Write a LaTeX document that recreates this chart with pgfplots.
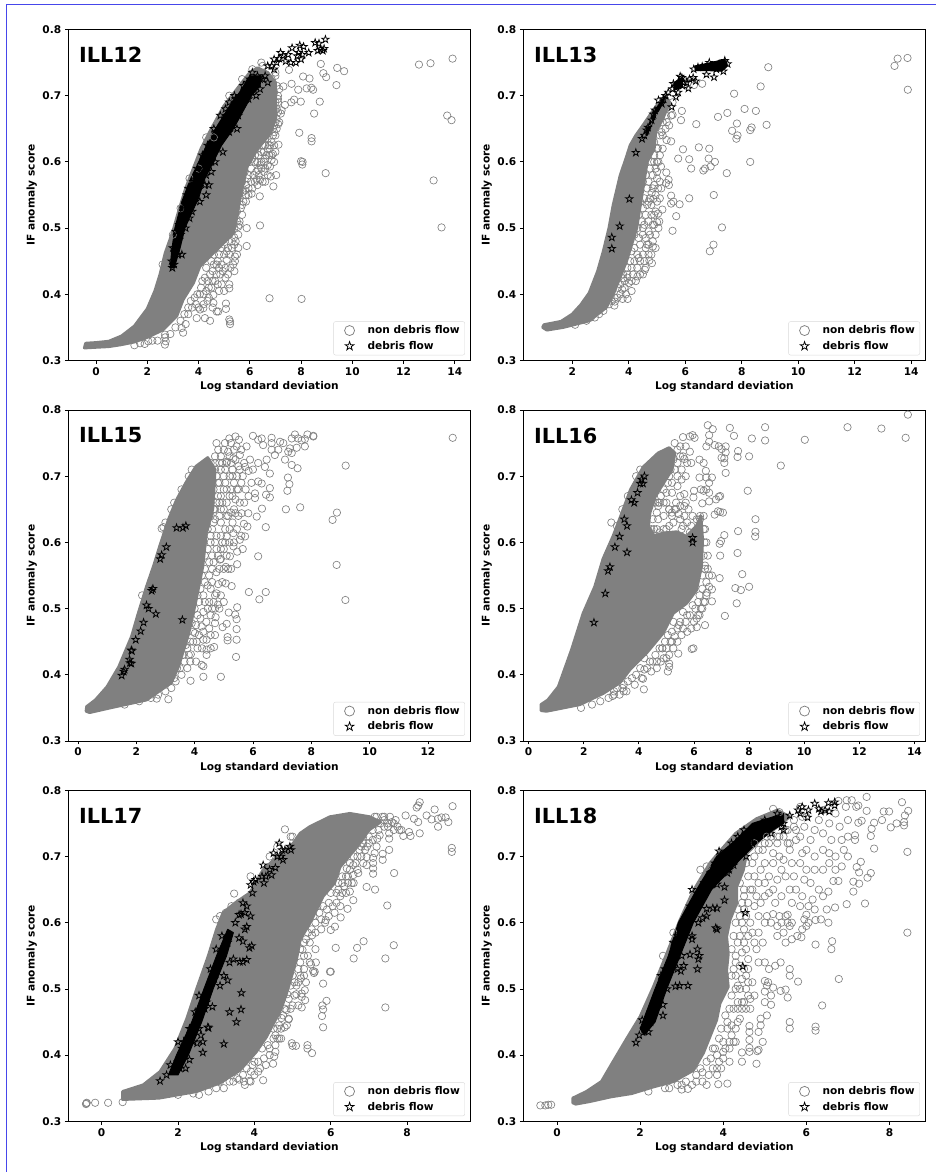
\documentclass[border=0pt]{standalone}
\usepackage{fontspec}
\setmainfont{DejaVu Sans}
\usepackage{pgfplots}
\pgfplotsset{compat=1.18}
\definecolor{mg}{RGB}{128,128,128}
\definecolor{bluebd}{RGB}{70,70,235}
\pgfdeclareplotmark{ostar}{%
  \pgfpathmoveto{\pgfpointpolar{90}{\pgfplotmarksize}}%
  \pgfpathlineto{\pgfpointpolar{126}{0.382\pgfplotmarksize}}%
  \pgfpathlineto{\pgfpointpolar{162}{\pgfplotmarksize}}%
  \pgfpathlineto{\pgfpointpolar{198}{0.382\pgfplotmarksize}}%
  \pgfpathlineto{\pgfpointpolar{234}{\pgfplotmarksize}}%
  \pgfpathlineto{\pgfpointpolar{270}{0.382\pgfplotmarksize}}%
  \pgfpathlineto{\pgfpointpolar{306}{\pgfplotmarksize}}%
  \pgfpathlineto{\pgfpointpolar{342}{0.382\pgfplotmarksize}}%
  \pgfpathlineto{\pgfpointpolar{18}{\pgfplotmarksize}}%
  \pgfpathlineto{\pgfpointpolar{54}{0.382\pgfplotmarksize}}%
  \pgfpathclose\pgfusepathqstroke}
\pgfplotsset{
  pan/.style={
    scale only axis, width=402.2pt, height=331pt,
    anchor=south west, ymin=0.3, ymax=0.8,
    ytick={0.3,0.4,0.5,0.6,0.7,0.8},
    tick align=outside, xtick pos=bottom, ytick pos=left,
    major tick length=3.5pt,
    every tick/.style={black,line width=0.8pt},
    axis line style={line width=0.8pt},
    clip=true,
    /pgf/number format/assume math mode=true,
    yticklabel style={/pgf/number format/fixed,/pgf/number format/fixed zerofill,/pgf/number format/precision=1},
    ticklabel style={font=\bfseries\fontsize{10.6}{12}\selectfont},
    scaled y ticks=false,
    xlabel={Log standard deviation}, ylabel={IF anomaly score},
    label style={font=\bfseries\fontsize{10.6}{12}\selectfont},
    xlabel style={at={(axis description cs:0.5,-0.079)},anchor=center},
    ylabel style={at={(axis description cs:-0.0907,0.5)},anchor=center},
    legend style={at={(0.9863,0.0157)},anchor=south east,draw=black!15,rounded corners=2pt,fill=white,
      font=\bfseries\fontsize{10.6}{12}\selectfont,inner xsep=3pt,inner ysep=2.2pt,
      row sep=2pt,cells={anchor=west}},
    legend cell align=left,
    legend image code/.code={\path[draw=none,fill=none] (0,0) -- (29pt,0); \path[draw=none,##1] plot coordinates {(13pt,0pt)};},
  },
  mass/.style={fill=mg,draw=mg,line width=3pt,line join=round,forget plot},
  core/.style={fill=black,draw=black,line width=1pt,line join=round,forget plot},
  circ/.style={only marks,mark=o,mark size=3.7pt,mark options={draw=mg,line width=0.65pt},forget plot},
  strs/.style={only marks,mark=ostar,mark size=3.9pt,mark options={draw=black,line width=0.75pt},forget plot},
}
\newcommand{\panlegend}{%
  \addlegendimage{only marks,mark=o,mark size=5pt,mark options={draw=mg,line width=0.75pt}}
  \addlegendentry{non debris flow}
  \addlegendimage{only marks,mark=ostar,mark size=4.6pt,mark options={draw=black,line width=0.75pt}}
  \addlegendentry{debris flow}}
\newcommand{\pantitle}[1]{\node[anchor=west,inner sep=0pt,font=\bfseries\fontsize{20.8}{24}\selectfont] at (rel axis cs:0.0266,0.923) {#1};}
\begin{document}
\begin{tikzpicture}[x=1pt,y=1pt]
\path[use as bounding box] (0,0) rectangle (936,1172);
\draw[bluebd,line width=1.4pt] (6.5,0) -- (6.5,1167.3) -- (936,1167.3);

% ILL12
\begin{axis}[pan,at={(68.3pt,811.5pt)},xmin=-1.079,xmax=14.61,xtick={0,2,4,6,8,10,12,14}]
\addplot[mass] coordinates {(-0.45,0.319)(-0.4,0.326)(0,0.327)(0.5,0.329)(1,0.337)(1.5,0.352)(2,0.378)(2.3,0.405)(2.5,0.43)(2.7,0.462)(3,0.495)(3.2,0.522)(3.5,0.56)(3.8,0.59)(4.1,0.62)(4.5,0.65)(5,0.685)(5.5,0.71)(6,0.735)(6.3,0.742)(6.7,0.735)(7,0.72)(7.02,0.668)(6.8,0.643)(6.27,0.618)(5.9,0.593)(5.75,0.568)(5.6,0.542)(5.5,0.517)(5.35,0.492)(4.7,0.467)(4.05,0.442)(3.8,0.417)(3.4,0.392)(3.15,0.367)(2.6,0.346)(2,0.335)(1.5,0.328)(1,0.324)(0.5,0.321)(0,0.32)(-0.45,0.319)} --cycle;
\addplot[circ] coordinates {(13.91,0.756)(13.05,0.749)(12.6,0.747)(13.7,0.670)(13.87,0.663)(13.17,0.572)(13.48,0.501)(9.68,0.737)(9.41,0.742)(9.38,0.716)(8.98,0.728)(8.87,0.734)(8.77,0.748)(8.33,0.726)(8.08,0.729)(8.96,0.583)(8.73,0.691)(8.51,0.673)(8.41,0.636)(8.41,0.631)(8.06,0.600)(8.05,0.596)(8.0,0.601)(7.93,0.644)(7.99,0.691)(7.62,0.690)(7.73,0.694)(7.89,0.709)(7.63,0.718)(7.31,0.714)(8.47,0.709)(8.22,0.711)(8.4,0.712)(7.53,0.739)(7.37,0.686)(7.24,0.678)(7.21,0.673)(7.11,0.657)(7.12,0.626)(8.02,0.393)(6.77,0.394)(6.4,0.504)(6.39,0.548)(6.92,0.563)(7.03,0.580)(6.82,0.578)(5.88,0.500)(5.88,0.473)(5.23,0.359)(5.2,0.362)(5.23,0.355)(5.07,0.378)(5.07,0.386)(5.2,0.409)(5.42,0.457)(5.42,0.450)(5.39,0.475)(5.39,0.486)(5.55,0.502)(5.6,0.510)(6.07,0.552)(5.81,0.557)(6.27,0.573)(6.4,0.573)(6.33,0.588)(6.79,0.593)(6.85,0.603)(4.71,0.374)(4.77,0.374)(4.58,0.387)(4.58,0.399)(4.25,0.364)(4.19,0.379)(4.06,0.377)(3.93,0.364)(3.4,0.342)(3.34,0.349)(2.69,0.324)(2.72,0.329)(2.69,0.339)(1.72,0.326)(2.04,0.329)(7.1,0.70)(7.05,0.68)(7.0,0.66)(6.95,0.645)(6.9,0.65)(6.6,0.635)(6.7,0.62)(6.5,0.625)(6.75,0.61)(6.55,0.60)(6.35,0.61)(6.2,0.60)(6.4,0.595)(6.05,0.59)(5.95,0.58)(5.85,0.565)(5.6,0.545)(5.65,0.53)(5.5,0.525)(5.75,0.54)(5.15,0.47)(5.0,0.46)(4.9,0.445)(5.05,0.44)(4.85,0.43)(4.7,0.445)(4.6,0.46)(4.5,0.45)(4.45,0.43)(4.3,0.44)(4.65,0.42)(4.75,0.415)(4.5,0.41)(4.3,0.405)(4.15,0.42)(4.05,0.40)(3.9,0.385)(3.75,0.38)(3.6,0.37)(3.5,0.355)(7.0,0.735)(6.85,0.725)(7.15,0.71)(7.1,0.69)(6.5,0.745)(4.0,0.59)(4.6,0.637)(3.0,0.49)(6.9,0.612)(6.6,0.59)(6.3,0.565)(5.95,0.56)(5.2,0.49)(5.3,0.47)(5.1,0.452)(4.8,0.405)(4.9,0.415)(5.0,0.405)
(7.0,0.73)(7.05,0.715)(6.95,0.705)(7.1,0.695)(7.0,0.69)(7.1,0.675)(7.05,0.665)(7.15,0.66)(6.95,0.655)(7.05,0.65)(6.9,0.64)(7.0,0.64)(6.85,0.63)(6.95,0.625)(6.7,0.635)(6.75,0.625)(6.6,0.625)(6.55,0.615)(6.65,0.61)(6.45,0.615)(6.3,0.62)(6.2,0.61)(6.1,0.605)(6.3,0.6)(6.45,0.6)(6.6,0.605)(6.7,0.595)(6.55,0.585)(6.35,0.58)(6.15,0.58)(6.05,0.57)(5.9,0.575)(5.85,0.55)(5.75,0.555)(5.7,0.52)(5.6,0.505)(5.55,0.49)(5.45,0.48)(5.3,0.48)(5.2,0.46)(5.1,0.465)(5.0,0.475)(4.9,0.47)(4.8,0.46)(4.75,0.45)(4.55,0.435)(4.6,0.445)(4.35,0.42)(4.4,0.41)(4.25,0.425)(4.1,0.41)(4.2,0.4)(3.95,0.4)(3.85,0.395)(3.7,0.39)(3.6,0.38)(3.45,0.37)(3.3,0.36)(3.1,0.35)(2.9,0.34)(2.7,0.335)(2.4,0.33)(2.2,0.33)(1.9,0.325)(1.5,0.323)(3.3,0.53)(3.65,0.575)(2.6,0.445)(4.3,0.637)(5.2,0.7)(5.7,0.725)(6.1,0.74)(6.45,0.75)
(5.4,0.5)(5.5,0.51)(5.7,0.535)(5.85,0.54)(5.95,0.55)(6.1,0.56)(6.2,0.57)(6.25,0.585)(6.0,0.6)(5.9,0.6)(5.8,0.585)(5.7,0.57)(5.65,0.56)(6.5,0.57)(6.45,0.59)(6.8,0.625)(6.85,0.61)(7,0.615)(6.95,0.6)(6.7,0.58)(6.6,0.57)(5.55,0.47)(5.5,0.46)(5.35,0.445)(5.25,0.44)(5.4,0.435)(5.15,0.43)(5.05,0.425)(5.2,0.415)(4.95,0.435)(4.8,0.44)(4.7,0.43)(4.55,0.42)(4.35,0.39)(4.4,0.395)(4.2,0.385)(4.0,0.38)(4.55,0.38)(4.45,0.36)} ;
\addplot[core] coordinates {(2.9,0.44)(2.95,0.465)(3.08,0.5)(3.35,0.54)(3.7,0.575)(4.19,0.615)(4.5,0.64)(4.9,0.665)(5.3,0.69)(5.6,0.705)(6,0.73)(6.45,0.73)(6.4,0.715)(6.07,0.7)(5.36,0.65)(4.9,0.625)(4.58,0.6)(4.25,0.575)(4.0,0.545)(3.7,0.52)(3.47,0.5)(3.25,0.465)(3.05,0.44)} --cycle;
\addplot[strs] coordinates {(8.95,0.785)(8.7,0.779)(8.55,0.78)(8.9,0.771)(8.65,0.768)(8.75,0.77)(8.85,0.768)(8.3,0.765)(8.1,0.774)(7.95,0.776)(7.65,0.772)(7.9,0.765)(7.8,0.75)(8.0,0.755)(8.05,0.762)(7.85,0.76)(7.5,0.762)(7.3,0.76)(7.15,0.756)(7.4,0.752)(6.95,0.755)(6.85,0.745)(6.7,0.745)(7.05,0.75)(7.2,0.765)(7.6,0.75)(6.95,0.74)(6.6,0.73)(6.7,0.72)(6.5,0.725)(6.4,0.71)(6.3,0.73)(6.2,0.715)(5.85,0.695)(5.65,0.685)(5.55,0.67)(5.3,0.66)(5.15,0.67)(5.0,0.65)(4.85,0.64)(4.7,0.62)(4.55,0.61)(4.3,0.58)(4.4,0.565)(4.3,0.55)(4.5,0.6)(4.2,0.59)(4.1,0.58)(4.0,0.565)(3.85,0.56)(3.75,0.545)(3.55,0.53)(3.45,0.52)(3.65,0.515)(3.3,0.49)(3.2,0.48)(3.1,0.47)(2.95,0.45)(3.05,0.445)(2.98,0.44)(3.6,0.56)(4.3,0.61)(5.05,0.68)(5.4,0.7)(5.9,0.72)(6.1,0.735)
(3.0,0.47)(3.1,0.495)(3.25,0.505)(3.4,0.53)(3.55,0.55)(3.8,0.57)(3.95,0.59)(4.15,0.61)(4.35,0.625)(4.6,0.65)(4.85,0.67)(5.2,0.69)(5.45,0.695)(5.75,0.715)(6.0,0.725)(6.4,0.725)(6.25,0.7)(5.95,0.695)(5.5,0.65)(5.2,0.645)(4.95,0.615)(4.65,0.6)(4.5,0.585)(4.25,0.565)(4.05,0.54)(3.75,0.525)(3.5,0.5)(3.35,0.46)(3.2,0.46)} ;
\pantitle{ILL12}
\panlegend
\end{axis}

% ILL13
\begin{axis}[pan,at={(523.3pt,811.5pt)},xmin=0.266,xmax=14.507,xtick={2,4,6,8,10,12,14}]
\addplot[mass] coordinates {(0.95,0.35)(1.0,0.354)(1.6,0.359)(2,0.37)(2.3,0.384)(2.6,0.402)(2.9,0.435)(3.1,0.465)(3.3,0.5)(3.45,0.535)(3.7,0.58)(3.9,0.605)(4.05,0.625)(4.25,0.64)(4.5,0.655)(4.9,0.68)(5.3,0.7)(5.45,0.69)(5.2,0.665)(4.95,0.645)(4.9,0.62)(4.65,0.6)(4.28,0.5)(3.92,0.45)(3.45,0.4)(3.2,0.38)(2.6,0.36)(1.68,0.35)(1.1,0.346)(0.95,0.35)} --cycle;
\addplot[circ] coordinates {(13.87,0.757)(13.52,0.756)(13.41,0.745)(13.88,0.709)(8.94,0.743)(8.67,0.714)(7.73,0.703)(8.1,0.68)(8.5,0.677)(7.49,0.674)(7.16,0.668)(8.88,0.656)(7.83,0.658)(7.66,0.647)(8.35,0.652)(8.3,0.648)(7.85,0.64)(7.81,0.635)(8.3,0.6)(6.6,0.718)(6.31,0.716)(5.88,0.677)(5.85,0.663)(6.39,0.657)(5.43,0.655)(5.16,0.645)(5.34,0.633)(5.5,0.631)(5.92,0.619)(6.48,0.622)(6.85,0.62)(5.75,0.605)(6.14,0.604)(6.83,0.605)(7.05,0.6)(6.21,0.59)(6.9,0.593)(6.7,0.59)(6.64,0.587)(7.47,0.583)(7.01,0.55)(6.14,0.545)(7.3,0.501)(7,0.475)(6.87,0.465)(5.55,0.496)(5.68,0.518)(5.8,0.536)(5.5,0.549)(5.5,0.537)(5.58,0.54)(5.19,0.528)(5.04,0.522)(5.08,0.51)(5.0,0.509)(5.14,0.593)(5.33,0.584)(5.41,0.573)(5.42,0.565)(5.32,0.568)(5.04,0.56)(4.81,0.553)(4.87,0.544)(4.82,0.447)(4.73,0.451)(4.57,0.437)(4.31,0.427)(4,0.417)(3.96,0.393)(3.78,0.393)(3.49,0.383)(3.51,0.389)(3.77,0.407)(3.8,0.424)(2.66,0.365)(5.3,0.67)(5.55,0.69)(5.5,0.67)(5.55,0.671)(4.7,0.63)(5.0,0.62)(5.03,0.621)(4.9,0.6)(4.85,0.58)(5.0,0.575)(4.9,0.565)(4.7,0.57)(4.75,0.545)(4.8,0.52)(4.9,0.505)(4.95,0.49)(4.85,0.48)(4.75,0.49)(4.85,0.472)(4.7,0.475)(4.6,0.47)(4.5,0.46)(4.4,0.45)(4.55,0.45)(4.3,0.44)(4.15,0.43)(3.95,0.425)(3.85,0.41)(3.7,0.4)(3.6,0.395)(4.7,0.51)(4.5,0.5)(4.6,0.485)(4.4,0.475)(4.7,0.66)(6.1,0.72)
(4.4,0.6)(4.5,0.61)(4.7,0.615)(4.8,0.6)(4.75,0.59)(4.6,0.58)(4.5,0.57)(4.65,0.56)(4.55,0.545)(4.4,0.54)(4.5,0.53)(4.65,0.535)(4.35,0.52)(4.45,0.51)(4.6,0.52)(4.3,0.5)(4.2,0.49)(4.35,0.485)(4.5,0.49)(4.2,0.47)(4.3,0.46)(4.1,0.465)(4.05,0.45)(4.2,0.45)(4.35,0.455)(3.95,0.44)(4.1,0.44)(3.8,0.43)(3.95,0.43)(3.7,0.415)(3.85,0.42)(3.6,0.41)(3.5,0.395)(3.4,0.39)(3.3,0.385)(3.1,0.375)(2.95,0.37)(2.8,0.365)(2.5,0.36)(2.1,0.354)(4.9,0.61)(4.95,0.59)(4.85,0.56)(4.7,0.54)(4.8,0.535)(4.55,0.505)(4.7,0.495)(4.65,0.475)(5.0,0.6)(4.9,0.63)(5.1,0.64)(5.0,0.655)(5.2,0.66)(5.3,0.68)(5.1,0.67)
(5.05,0.6)(5.1,0.61)(5.0,0.585)(5.1,0.57)(5.15,0.56)(4.95,0.55)(5.0,0.54)(5.1,0.545)(4.95,0.525)(4.85,0.505)(5.05,0.5)(4.9,0.52)(4.95,0.47)(4.8,0.46)(4.7,0.46)(4.6,0.44)(4.5,0.43)(4.4,0.43)(4.25,0.42)(4.1,0.42)(4.1,0.405)(3.9,0.4)(5.2,0.62)(5.3,0.65)(5.2,0.64)(5.35,0.66)} ;
\addplot[core] coordinates {(6.35,0.745)(6.9,0.75)(7.4,0.755)(7.5,0.745)(7.3,0.737)(6.7,0.738)(6.35,0.738)} --cycle;
\addplot[core] coordinates {(5.6,0.72)(5.9,0.728)(5.9,0.713)(5.6,0.708)} --cycle;
\addplot[core] coordinates {(4.6,0.645)(4.95,0.68)(5.3,0.7)(5.2,0.688)(4.9,0.665)(4.65,0.64)} --cycle;
\addplot[strs] coordinates {(3.4,0.469)(3.4,0.486)(3.68,0.503)(4.02,0.544)(4.25,0.614)(4.47,0.635)(4.55,0.64)(4.63,0.648)(4.68,0.652)(4.81,0.663)(4.87,0.672)(4.93,0.678)(5.05,0.693)(5.17,0.688)(5.23,0.695)(5.4,0.705)(5.52,0.683)(5.67,0.698)(5.58,0.718)(5.7,0.716)(5.82,0.729)(5.88,0.727)(6.11,0.711)(6.15,0.725)(6.28,0.727)(6.37,0.722)(6.3,0.74)(6.45,0.743)(6.6,0.744)(6.75,0.732)(6.85,0.75)(7.02,0.728)(7.2,0.748)(7.35,0.737)(7.4,0.753)(7.5,0.748)(7.1,0.74)(6.95,0.745)(5.95,0.72)(5.55,0.71)(5.75,0.705)(5.3,0.7)(5.9,0.715)(6.05,0.72)} ;
\pantitle{ILL13}
\panlegend
\end{axis}

% ILL15
\begin{axis}[pan,at={(68.3pt,431pt)},xmin=-0.331,xmax=13.46,xtick={0,2,4,6,8,10,12}]
\addplot[mass] coordinates {(0.28,0.345)(0.3,0.352)(0.6,0.362)(1,0.382)(1.4,0.412)(1.84,0.458)(2.05,0.49)(2.35,0.533)(2.6,0.565)(2.81,0.595)(3.1,0.634)(3.38,0.664)(3.7,0.69)(4.05,0.715)(4.45,0.728)(4.7,0.71)(4.62,0.65)(4.4,0.614)(4.28,0.564)(4.05,0.513)(3.8,0.463)(3.45,0.413)(3.2,0.388)(2.35,0.362)(1.1,0.35)(0.4,0.343)} --cycle;
\addplot[circ] coordinates {(12.85,0.758)(9.18,0.716)(8.88,0.645)(8.73,0.634)(8.87,0.566)(9.17,0.513)(8.07,0.761)(8.07,0.76)(7.87,0.763)(7.44,0.763)(7.55,0.757)(7.33,0.757)(7.67,0.754)(7.78,0.756)(7.78,0.745)(7.5,0.743)(7.27,0.742)(7.21,0.737)(7.33,0.735)(7.1,0.725)(7.33,0.717)(7.53,0.712)(7.2,0.698)(7.25,0.688)(7.18,0.678)(7.13,0.65)(7.62,0.653)(6.64,0.758)(6.3,0.757)(6,0.761)(6.18,0.755)(6.35,0.747)(6.64,0.75)(6.93,0.752)(7.04,0.75)(6.87,0.74)(6.64,0.74)(6.75,0.732)(6.47,0.725)(6.18,0.72)(6.58,0.704)(6.41,0.714)(6.18,0.692)(6.3,0.689)(6.58,0.682)(6.58,0.668)(6.45,0.672)(6.07,0.674)(6.07,0.667)(6.31,0.651)(6.13,0.639)(6.44,0.623)(5.84,0.644)(5.61,0.644)(5.4,0.644)(5.81,0.624)(5.69,0.628)(5.73,0.609)(6.18,0.579)(5.46,0.586)(5.46,0.567)(5.86,0.525)(6.22,0.514)(6.44,0.525)(5.46,0.502)(5.44,0.484)(5.39,0.491)(5.17,0.494)(5.44,0.469)(5.44,0.453)(5.42,0.427)(5.13,0.457)(5.13,0.452)(5.1,0.477)(4.96,0.472)(4.72,0.487)(4.7,0.478)(4.67,0.442)(4.9,0.397)(4.3,0.397)(4.3,0.413)(4.24,0.415)(3.86,0.391)(3.87,0.431)(3.1,0.363)(2.7,0.364)(4.41,0.43)(4.41,0.438)(4.3,0.453)(4.41,0.453)(4.07,0.45)(4.3,0.465)(4.01,0.463)(4.24,0.473)(4.8,0.506)(4.75,0.523)(5.27,0.534)(5.07,0.538)(4.81,0.537)(5.07,0.563)(4.87,0.574)(5.21,0.579)(5.33,0.594)(5.1,0.609)(5.55,0.604)(5.33,0.614)(2.93,0.623)(2.87,0.621)(4.75,0.75)(5.04,0.75)(5.19,0.757)(5.52,0.755)(4.81,0.74)(5.15,0.737)(5.44,0.745)(5.78,0.745)(5.35,0.74)(5.55,0.732)(5.9,0.725)(5.73,0.714)(5.55,0.71)(5.85,0.708)(5.33,0.727)(5.1,0.722)(4.9,0.73)(5,0.7)(5.2,0.7)(5.35,0.69)(5.6,0.69)(5.75,0.68)(5.4,0.665)(5.55,0.66)(5,0.68)(5.2,0.67)(4.8,0.69)(4.7,0.71)(4.75,0.66)(5,0.65)(5.15,0.64)(5.3,0.63)(4.9,0.63)(4.7,0.635)(4.9,0.61)(4.7,0.6)(5,0.59)(4.8,0.58)(4.6,0.58)(4.6,0.56)(4.75,0.555)(4.5,0.55)(4.55,0.53)(4.35,0.54)(4.3,0.52)(4.5,0.51)(4.3,0.495)(4.1,0.49)(4.6,0.5)(4.15,0.51)(3.9,0.478)(3.95,0.465)(3.7,0.445)(3.6,0.43)(3.4,0.41)(3.3,0.395)(4.95,0.6)(5.1,0.58)(4.6,0.62)(4.5,0.64)(4.65,0.65)(4.85,0.66)(5.5,0.715)(5.3,0.71)
(4.55,0.72)(4.7,0.73)(4.6,0.69)(4.75,0.7)(4.65,0.68)(4.8,0.67)(4.55,0.66)(4.7,0.65)(4.85,0.64)(4.95,0.66)(5.1,0.66)(5.05,0.62)(5.2,0.62)(5.25,0.645)(5.05,0.69)(4.9,0.71)(5.1,0.72)(5.25,0.72)(5.4,0.725)(4.55,0.64)(4.45,0.62)(4.55,0.6)(4.75,0.61)(4.9,0.59)(4.45,0.59)(4.35,0.58)(4.5,0.57)(4.65,0.57)(4.85,0.56)(4.35,0.56)(4.25,0.55)(4.45,0.535)(4.6,0.54)(4.7,0.52)(4.2,0.53)(4.1,0.52)(4.35,0.51)(4.55,0.49)(4.4,0.48)(4.2,0.485)(4.0,0.5)(4.05,0.475)(3.95,0.45)(4.15,0.46)(3.85,0.45)(3.75,0.44)(3.8,0.43)(3.65,0.42)(3.5,0.41)(3.55,0.4)(3.35,0.39)(3.2,0.38)(3.0,0.375)(2.75,0.37)(2.5,0.365)(2.1,0.36)(1.6,0.355)(2.2,0.52)(3.0,0.63)(3.2,0.65)(3.3,0.66)(3.55,0.68)(3.8,0.7)(3.9,0.71)
(4.7,0.72)(4.85,0.72)(4.95,0.72)(5.05,0.71)(5.2,0.73)(5.3,0.7)(5.45,0.7)(5.65,0.7)(5.5,0.68)(5.25,0.68)(5.1,0.68)(4.9,0.67)(4.85,0.69)(5.35,0.65)(5.5,0.64)(5.45,0.62)(5.2,0.6)(5.35,0.6)(5.05,0.6)(5.15,0.56)(5.25,0.56)(5,0.56)(4.95,0.54)(4.9,0.52)(5,0.51)(4.65,0.51)(4.45,0.5)(4.7,0.5)(4.85,0.5)(4.5,0.47)(4.7,0.46)(4.55,0.46)(4.55,0.44)(4.25,0.44)(4.1,0.44)(4.05,0.42)(3.75,0.41)(3.85,0.42)(4.3,0.6)(4.35,0.62)(4.4,0.64)(4.45,0.66)(4.55,0.68)(4.75,0.59)(4.9,0.575)(4.55,0.61)(4.65,0.63)(4.9,0.65)(5.1,0.64)(5.3,0.67)(5.45,0.68)(5.7,0.72)(5.6,0.74)(5.4,0.76)(5.0,0.74)(5.25,0.75)(6.0,0.71)(5.95,0.69)(5.85,0.67)(5.7,0.66)(5.6,0.61)(5.65,0.59)} ;
\addplot[strs] coordinates {(1.5,0.399)(1.57,0.405)(1.6,0.408)(1.77,0.423)(1.78,0.418)(1.83,0.417)(1.85,0.436)(1.83,0.437)(1.98,0.453)(2.15,0.466)(2.25,0.479)(2.35,0.505)(2.42,0.5)(2.67,0.492)(2.53,0.527)(2.57,0.53)(2.82,0.575)(2.87,0.581)(3.03,0.593)(3.38,0.622)(3.6,0.622)(3.7,0.625)(3.58,0.483)} ;
\pantitle{ILL15}
\panlegend
\end{axis}

% ILL16
\begin{axis}[pan,at={(523.3pt,431pt)},xmin=-0.193,xmax=14.40,xtick={0,2,4,6,8,10,12,14}]
\addplot[mass] coordinates {(0.45,0.346)(0.45,0.355)(0.7,0.362)(1.08,0.382)(1.56,0.438)(1.98,0.493)(2.4,0.533)(2.7,0.575)(3.07,0.61)(3.3,0.635)(3.7,0.68)(4.16,0.714)(4.7,0.735)(5.1,0.743)(5.3,0.735)(5.2,0.71)(4.9,0.69)(4.6,0.67)(4.4,0.645)(4.35,0.625)(4.55,0.61)(4.88,0.614)(5.37,0.616)(5.73,0.609)(6.09,0.625)(6.25,0.64)(6.31,0.604)(6.27,0.564)(6.09,0.528)(5.73,0.508)(5.25,0.493)(4.88,0.463)(4.28,0.433)(3.68,0.408)(3.31,0.388)(2.71,0.372)(1.86,0.355)(0.65,0.345)} --cycle;
\addplot[circ] coordinates {(13.76,0.793)(13.68,0.758)(12.8,0.772)(11.57,0.774)(10.02,0.755)(9.15,0.716)(8.58,0.774)(8.58,0.754)(8.1,0.757)(8,0.73)(7.95,0.678)(7.3,0.773)(7.45,0.761)(7.15,0.745)(7.6,0.738)(7.58,0.729)(7.15,0.736)(7.0,0.728)(7.1,0.72)(7.1,0.727)(7.15,0.705)(6.5,0.777)(6.55,0.762)(6.68,0.771)(6.55,0.752)(6.45,0.745)(6.75,0.747)(6.9,0.745)(7,0.741)(5.95,0.762)(5.85,0.76)(6.02,0.758)(5.6,0.759)(5.3,0.75)(5.5,0.745)(5.7,0.745)(5.85,0.737)(5.65,0.726)(5.9,0.72)(5.55,0.71)(5.7,0.7)(5.4,0.72)(6.2,0.725)(6.35,0.72)(6.43,0.708)(6.2,0.698)(6.45,0.698)(6.65,0.698)(6.55,0.69)(6.45,0.68)(6.25,0.68)(6.35,0.678)(6.55,0.675)(6.0,0.678)(5.65,0.673)(5.98,0.668)(6.3,0.659)(6.55,0.662)(6.8,0.665)(6.9,0.669)(6.95,0.67)(6.75,0.642)(6.95,0.646)(7.05,0.645)(6.87,0.647)(8.23,0.635)(7.6,0.617)(8.23,0.616)(8.22,0.609)(7.1,0.611)(6.98,0.602)(6.93,0.598)(6.95,0.58)(7.58,0.584)(7.75,0.552)(6.93,0.546)(6.65,0.55)(6.55,0.533)(6.65,0.529)(6.47,0.524)(6.65,0.511)(7.5,0.531)(7.7,0.528)(8,0.533)(7.55,0.508)(7.12,0.489)(6.4,0.475)(6.1,0.472)(6.25,0.5)(5.98,0.44)(5.92,0.439)(5.43,0.432)(5.3,0.458)(5.6,0.47)(5.05,0.405)(5.1,0.412)(5.1,0.417)(4.18,0.378)(4.15,0.394)(4.2,0.408)(3.05,0.368)(3.1,0.375)(3.4,0.38)(3.45,0.385)(4.65,0.42)(4.9,0.425)(4.85,0.44)(5,0.44)(5.2,0.45)(5.45,0.475)(5.7,0.48)(6.2,0.49)(6.1,0.485)(6.4,0.51)(6.5,0.56)(6.4,0.565)(5.3,0.65)(5.5,0.655)(5.65,0.655)(5.8,0.65)(5.95,0.64)(6.1,0.635)(5.1,0.65)(5.2,0.645)(5.45,0.643)(5.75,0.63)(5.55,0.62)(4.9,0.64)(4.7,0.635)(4.75,0.615)(4.6,0.6)(4.85,0.6)(4.55,0.62)(5.65,0.64)(5.1,0.65)(6.22,0.64)(6.22,0.635)(4.85,0.59)(3.0,0.63)(2.5,0.525)(4.6,0.66)(5.1,0.7)(5.2,0.69)(5.4,0.685)(5.0,0.675)(4.8,0.67)(4.7,0.655)
(4.5,0.6)(4.45,0.62)(4.5,0.635)(4.65,0.645)(4.75,0.66)(4.9,0.66)(5,0.66)(4.75,0.595)(5.1,0.625)(5.25,0.63)(5.5,0.635)(5.6,0.625)(5.9,0.625)(5.85,0.615)(6.35,0.62)(6.38,0.6)(6.35,0.58)(6.4,0.56)(6.45,0.54)(6.3,0.55)(6.3,0.53)(6.2,0.52)(6.15,0.51)(6.05,0.5)(5.95,0.505)(5.85,0.49)(5.75,0.49)(5.6,0.495)(5.5,0.48)(5.4,0.47)(5.25,0.48)(5.2,0.465)(5.15,0.45)(5.05,0.46)(4.95,0.45)(4.85,0.44)(4.75,0.44)(4.6,0.43)(4.5,0.42)(4.4,0.42)(4.2,0.425)(4.05,0.41)(3.9,0.4)(3.75,0.395)(3.6,0.39)(3.45,0.375)(3.2,0.38)(3.1,0.37)(2.9,0.365)(2.6,0.36)(2.3,0.355)(1.9,0.35)
(4.7,0.6)(4.9,0.62)(4.65,0.62)(5.0,0.62)(5.2,0.64)(5.35,0.65)(6.35,0.64)(6.4,0.62)(6.45,0.6)(6.5,0.58)(6.55,0.55)(6.45,0.52)(6.35,0.51)(6.3,0.5)(6.15,0.49)(6,0.48)(5.9,0.47)(5.75,0.465)(5.55,0.46)(5.4,0.45)(5.25,0.44)(5.1,0.43)(5,0.425)(4.8,0.42)(4.65,0.41)(4.45,0.405)(4.3,0.41)(4.1,0.395)(3.85,0.385)(3.55,0.375)(3.3,0.37)(5.4,0.7)(5.3,0.71)(5.5,0.73)(5.15,0.71)(5.05,0.69)(4.9,0.68)(4.7,0.66)(5.2,0.675)(5.35,0.66)(5.5,0.67)(5.7,0.66)(5.25,0.725)(5.4,0.74)(5.6,0.73)(5.75,0.72)(5.55,0.695)(4.9,0.705)(3.9,0.70)(4.05,0.71)(3.6,0.67)(3.4,0.65)(3.2,0.625)} ;
\addplot[strs] coordinates {(2.37,0.479)(2.78,0.523)(2.88,0.557)(2.95,0.563)(3.13,0.593)(3.57,0.585)(3.3,0.609)(3.57,0.625)(3.47,0.635)(3.73,0.664)(3.83,0.66)(3.95,0.675)(4.05,0.689)(4.15,0.689)(4.1,0.695)(4.2,0.7)(5.95,0.6)(5.95,0.607)} ;
\pantitle{ILL16}
\panlegend
\end{axis}

% ILL17
\begin{axis}[pan,at={(68.3pt,50.7pt)},xmin=-0.873,xmax=9.66,xtick={0,2,4,6,8}]
\addplot[mass] coordinates {(0.55,0.333)(0.55,0.345)(1.09,0.355)(1.53,0.375)(1.92,0.41)(2.23,0.455)(2.49,0.5)(2.79,0.549)(3.01,0.59)(3.18,0.615)(3.5,0.63)(3.88,0.645)(4.23,0.68)(4.7,0.705)(5.02,0.72)(5.2,0.735)(5.45,0.745)(5.98,0.76)(6.5,0.765)(7.02,0.76)(7.3,0.752)(7.0,0.74)(6.68,0.714)(6.24,0.684)(6.1,0.66)(5.8,0.64)(5.45,0.599)(5.2,0.575)(5.1,0.544)(4.84,0.493)(4.7,0.47)(4.32,0.428)(4.05,0.405)(3.62,0.377)(3.1,0.358)(2.49,0.345)(1.5,0.335)(0.55,0.333)} --cycle;
\addplot[circ] coordinates {(-0.4,0.327)(-0.41,0.326)(-0.39,0.328)(-0.17,0.328)(0.17,0.328)(0.55,0.329)(9.19,0.776)(8.33,0.782)(8.29,0.777)(8.25,0.774)(8.72,0.771)(7.96,0.762)(8.18,0.757)(8.29,0.752)(8.51,0.762)(8.64,0.756)(8.81,0.757)(8.9,0.759)(9.01,0.759)(9.08,0.752)(8.81,0.745)(8.33,0.735)(8.05,0.737)(8.09,0.731)(7.9,0.731)(9.17,0.713)(9.17,0.707)(7.66,0.675)(7.48,0.626)(7.65,0.566)(7.43,0.546)(7.43,0.472)(6.86,0.572)(6.69,0.562)(6.6,0.546)(6.13,0.562)(5.98,0.526)(6,0.526)(5.8,0.508)(5.58,0.526)(5.61,0.54)(5.48,0.537)(5.54,0.527)(5.56,0.524)(5.89,0.482)(5.78,0.475)(5.8,0.469)(5.77,0.459)(5.8,0.442)(5.32,0.498)(5.24,0.493)(5.24,0.488)(5.33,0.483)(5.24,0.472)(5.1,0.492)(4.86,0.492)(5.22,0.516)(5.51,0.403)(5.39,0.415)(5.39,0.41)(5.09,0.414)(4.98,0.418)(5,0.414)(4.79,0.442)(4.9,0.454)(4.71,0.456)(4.84,0.468)(4.65,0.425)(4.55,0.405)(4.49,0.387)(4.52,0.398)(4.23,0.362)(3.75,0.355)(3.73,0.36)(3.87,0.361)(3.6,0.363)(3.91,0.375)(3.47,0.644)(4.8,0.741)(6.94,0.654)(7.16,0.65)(6.59,0.634)(6.44,0.621)(6.5,0.647)(6.26,0.608)(6.11,0.594)(6,0.589)(5.87,0.604)(5.51,0.581)(5.26,0.559)(7.53,0.735)(7.53,0.727)(7.53,0.71)(7.36,0.695)(7.11,0.674)(7.11,0.682)(7.11,0.69)(7.11,0.698)(6.94,0.687)(6.72,0.675)(6.59,0.672)(6.42,0.682)(6.59,0.687)(7.36,0.704)(7.2,0.715)(6.94,0.699)(7.28,0.732)(7.22,0.727)(7.5,0.75)(7.6,0.752)(7.75,0.745)(7.4,0.76)(7.15,0.76)(7.8,0.74)(7.65,0.74)(7.4,0.745)(7.1,0.725)(6.85,0.72)(6.7,0.7)(6.9,0.71)(6.4,0.67)(6.2,0.66)(6.6,0.66)(6.3,0.645)(6.15,0.63)(5.9,0.62)(5.75,0.605)(5.6,0.6)(5.5,0.59)(5.3,0.57)(5.3,0.55)(5.2,0.54)(5.2,0.52)(5,0.52)(4.95,0.505)(4.8,0.47)(4.6,0.46)(4.5,0.44)(4.4,0.41)(4.2,0.41)(4.0,0.39)(3.8,0.38)(4.6,0.44)(3.1,0.61)(3.25,0.615)(3.4,0.625)(3.6,0.63)(3.9,0.67)(4.4,0.7)(4.6,0.715)(3,0.605)(4.95,0.73)(5.0,0.73)(2.4,0.342)(3.1,0.36)
(7.3,0.75)(7.1,0.74)(7.0,0.73)(6.85,0.73)(6.75,0.71)(6.8,0.7)(6.6,0.7)(6.5,0.69)(6.45,0.67)(6.3,0.67)(6.35,0.655)(6.2,0.65)(6.0,0.645)(6.05,0.625)(5.95,0.63)(5.8,0.625)(5.7,0.615)(5.65,0.625)(5.55,0.61)(5.45,0.61)(5.4,0.585)(5.35,0.575)(5.2,0.56)(5.3,0.53)(5.15,0.53)(5.05,0.51)(5.1,0.505)(4.9,0.485)(4.95,0.47)(4.75,0.46)(4.65,0.445)(4.7,0.44)(4.5,0.425)(4.55,0.415)(4.35,0.415)(4.25,0.395)(4.1,0.39)(3.95,0.385)(3.7,0.37)(3.55,0.365)(3.35,0.36)(3.0,0.35)(2.8,0.345)(2.55,0.34)(2.0,0.34)(7.2,0.76)(7.4,0.755)(7.5,0.745)(7.65,0.75)(7.85,0.74)
(6.95,0.755)(7.1,0.75)(7.25,0.74)(7.0,0.72)(7.15,0.705)(6.95,0.715)(6.8,0.715)(6.65,0.69)(6.5,0.68)(6.55,0.66)(6.3,0.66)(6.15,0.645)(6.25,0.625)(6.1,0.615)(5.95,0.61)(5.85,0.6)(5.75,0.59)(5.6,0.585)(5.45,0.57)(5.6,0.56)(5.4,0.55)(5.45,0.54)(5.3,0.52)(5.35,0.51)(5.15,0.51)(5.05,0.49)(5.15,0.475)(5.0,0.475)(4.9,0.455)(4.85,0.445)(4.7,0.425)(4.6,0.425)(4.55,0.43)(4.4,0.4)(4.3,0.385)(4.15,0.38)(3.9,0.36)(4.0,0.37)(4.1,0.375)(3.45,0.36)(3.2,0.35)(6.4,0.645)(6.25,0.64)(6.45,0.66)(6.7,0.68)(6.85,0.69)(6.75,0.725)(7.35,0.76)(7.55,0.76)(7.7,0.755)} ;
\addplot[core] coordinates {(1.75,0.37)(1.96,0.4)(2.36,0.45)(2.68,0.5)(3.01,0.55)(3.3,0.59)(3.45,0.585)(3.27,0.55)(2.92,0.5)(2.62,0.45)(2.27,0.4)(2.0,0.37)} --cycle;
\addplot[strs] coordinates {(1.53,0.361)(1.7,0.37)(1.8,0.385)(2,0.39)(2.05,0.38)(2.2,0.38)(2.3,0.393)(2.0,0.42)(2.15,0.42)(2.6,0.43)(2.5,0.418)(2.65,0.404)(2.65,0.42)(2.78,0.442)(2.8,0.441)(3.2,0.417)(3.35,0.465)(3.65,0.469)(3.53,0.45)(3.66,0.494)(2.9,0.473)(2.75,0.48)(3.1,0.505)(3.3,0.513)(3.2,0.52)(3.35,0.54)(3.45,0.545)(3.62,0.541)(3.7,0.541)(3.8,0.544)(3.87,0.562)(3.93,0.565)(3.7,0.572)(3.6,0.577)(3.3,0.57)(3.5,0.6)(3.65,0.613)(3.6,0.612)(3.75,0.59)(3.8,0.594)(3.9,0.61)(3.75,0.615)(3.8,0.625)(3.7,0.63)(3.95,0.645)(3.9,0.657)(3.98,0.662)(4.03,0.665)(4.2,0.67)(4.3,0.67)(4.25,0.66)(4.45,0.672)(4.23,0.687)(4.4,0.68)(4.55,0.683)(4.75,0.695)(4.7,0.7)(4.6,0.7)(4.65,0.72)(4.72,0.71)(4.8,0.71)(4.93,0.715)(4.96,0.71)(4.5,0.705)
(2.1,0.41)(2.3,0.44)(2.45,0.465)(2.55,0.49)(2.7,0.49)(2.85,0.53)(3.0,0.56)(3.15,0.58)(2.4,0.42)(2.55,0.44)(2.95,0.515)(2.7,0.47)(3.1,0.54)(3.2,0.555)(2.25,0.425)(1.95,0.38)} ;
\pantitle{ILL17}
\panlegend
\end{axis}

% ILL18
\begin{axis}[pan,at={(523.3pt,50.7pt)},xmin=-0.81,xmax=8.866,xtick={0,2,4,6,8}]
\addplot[mass] coordinates {(0.38,0.328)(0.38,0.335)(0.71,0.345)(1.07,0.36)(1.35,0.39)(1.68,0.425)(2,0.458)(2.32,0.503)(2.64,0.553)(2.96,0.604)(3.28,0.648)(3.68,0.69)(3.95,0.71)(4.3,0.735)(4.8,0.757)(5.3,0.77)(5.6,0.76)(5.2,0.74)(4.96,0.73)(4.56,0.704)(4.48,0.679)(4.32,0.654)(4.32,0.629)(4.16,0.604)(4.08,0.579)(4.12,0.553)(4.08,0.528)(4.12,0.503)(3.92,0.478)(3.84,0.453)(3.68,0.428)(3.52,0.403)(3.28,0.377)(2.8,0.36)(2.32,0.352)(1.8,0.342)(1.3,0.337)(0.8,0.33)(0.45,0.326)} --cycle;
\addplot[circ] coordinates {(-0.4,0.324)(-0.28,0.324)(-0.21,0.325)(-0.14,0.325)(7.45,0.79)(8.3,0.782)(8.45,0.769)(8.37,0.762)(8.35,0.752)(8.35,0.747)(8.43,0.707)(8.43,0.585)(7.99,0.768)(7.86,0.768)(7.82,0.755)(8.17,0.75)(8.03,0.744)(7.63,0.751)(7.57,0.742)(7.55,0.731)(7.63,0.712)(7.33,0.754)(7.45,0.769)(7.25,0.777)(7.09,0.785)(6.97,0.785)(6.77,0.784)(7.25,0.751)(7.17,0.732)(7.17,0.725)(7.31,0.692)(7.55,0.675)(7.47,0.668)(7.21,0.684)(7.27,0.676)(7.13,0.662)(7.13,0.647)(7.27,0.659)(7.41,0.629)(6.97,0.628)(6.69,0.623)(6.49,0.62)(6.53,0.647)(6.65,0.663)(6.77,0.663)(6.53,0.6)(6.35,0.605)(6.22,0.604)(6.2,0.62)(6.05,0.625)(6,0.612)(5.95,0.605)(6.05,0.6)(6.0,0.595)(5.9,0.59)(5.88,0.578)(5.78,0.58)(5.65,0.575)(6.22,0.567)(6.62,0.572)(6.6,0.56)(6.78,0.515)(6.38,0.475)(5.6,0.45)(5.6,0.44)(6.22,0.443)(6.22,0.437)(5.8,0.511)(5.6,0.53)(5.38,0.54)(5.6,0.52)(5.5,0.499)(5.38,0.497)(5.55,0.487)(5.2,0.502)(5.08,0.51)(5.0,0.512)(5.05,0.505)(5.15,0.49)(5.0,0.48)(5.0,0.496)(5.15,0.476)(5.05,0.46)(4.9,0.455)(4.9,0.445)(4.85,0.435)(4.95,0.42)(4.82,0.406)(4.85,0.408)(4.63,0.444)(4.63,0.435)(4.63,0.423)(4.63,0.411)(4.63,0.405)(4.45,0.404)(4.45,0.39)(4.8,0.387)(4.1,0.357)(3.88,0.356)(3.85,0.37)(3.85,0.38)(3.6,0.355)(3.0,0.355)(3.0,0.348)(3.15,0.349)(3.35,0.36)(3.5,0.374)(2.7,0.35)(4.15,0.42)(4.25,0.42)(4.05,0.41)(4.15,0.39)(4.0,0.395)(3.85,0.4)(4.1,0.44)(4.2,0.445)(4.4,0.455)(4.45,0.47)(4.45,0.48)(4.35,0.48)(4.6,0.49)(4.65,0.485)(4.55,0.5)(4.7,0.51)(4.6,0.53)(4.35,0.505)(4.3,0.52)(4.25,0.53)(4.3,0.55)(4.45,0.555)(4.5,0.57)(4.6,0.545)(4.85,0.54)(5,0.54)(5.25,0.535)(5.1,0.53)(4.65,0.6)(4.5,0.59)(4.7,0.585)(4.85,0.585)(4.95,0.57)(4.35,0.62)(4.5,0.64)(4.6,0.63)(4.75,0.625)(4.85,0.61)(5.05,0.61)(5.2,0.613)(5.35,0.61)(5.5,0.61)(5.55,0.6)(5.4,0.6)(5.3,0.595)(5.15,0.6)(5.45,0.585)(5.3,0.58)(5.6,0.595)(5.55,0.612)(5.5,0.57)(5.65,0.6)(4.7,0.65)(4.85,0.66)(5,0.64)(5.1,0.645)(5.2,0.65)(5.4,0.64)(5.6,0.65)(5.75,0.65)(5.9,0.64)(5.85,0.625)(5.65,0.63)(4.75,0.67)(4.9,0.68)(5.1,0.67)(5.3,0.665)(5.5,0.67)(5.7,0.67)(5.95,0.665)(6.1,0.66)(6.3,0.65)(6.15,0.635)(6.4,0.64)(4.75,0.7)(4.95,0.71)(5.2,0.69)(5.35,0.7)(5.45,0.695)(5.65,0.69)(5.85,0.69)(6,0.68)(6.2,0.68)(6.4,0.68)(6.55,0.69)(6.7,0.68)(6.85,0.685)(5.1,0.72)(5.3,0.72)(5.55,0.72)(5.6,0.71)(5.75,0.725)(5.9,0.705)(6.0,0.71)(6.2,0.7)(6.4,0.71)(6.55,0.705)(6.7,0.7)(6.9,0.71)(7.0,0.7)(5.5,0.74)(5.7,0.745)(5.95,0.745)(6.2,0.74)(6.4,0.735)(6.6,0.725)(6.85,0.725)(7.0,0.73)(6.1,0.725)(5.85,0.73)(6,0.76)(6.3,0.755)(6.55,0.75)(6.8,0.745)(7,0.755)(6.7,0.765)(6.4,0.77)(5.35,0.767)(5.85,0.775)(5.2,0.772)(7.2,0.775)(6.95,0.775)
(4.4,0.66)(4.5,0.65)(4.6,0.67)(4.55,0.69)(4.7,0.69)(4.75,0.72)(4.85,0.71)(5,0.72)(5.15,0.73)(5.3,0.73)(5.45,0.73)(5.7,0.755)(5.9,0.76)(5.6,0.72)(4.45,0.63)(4.4,0.61)(4.3,0.6)(4.25,0.58)(4.35,0.57)(4.2,0.56)(4.3,0.54)(4.2,0.52)(4.3,0.5)(4.2,0.49)(4.25,0.47)(4.15,0.47)(4.05,0.46)(4.1,0.45)(3.95,0.44)(3.9,0.425)(4.0,0.42)(3.8,0.41)(3.7,0.395)(3.75,0.41)(3.6,0.39)(3.45,0.38)(3.35,0.37)(3.1,0.36)(2.9,0.355)(2.6,0.35)(2.2,0.345)(3.6,0.685)(3.45,0.68)(2.8,0.585)(2.55,0.55)
(4.35,0.47)(4.4,0.5)(4.45,0.515)(4.5,0.53)(4.4,0.535)(4.55,0.52)(4.6,0.51)(4.5,0.48)(4.55,0.47)(4.35,0.45)(4.3,0.44)(4.2,0.43)(4.3,0.42)(4.15,0.41)(4.0,0.405)(3.9,0.39)(3.95,0.38)(3.75,0.38)(3.65,0.37)(3.5,0.36)(3.25,0.355)(4.45,0.6)(4.55,0.61)(4.5,0.62)(4.65,0.65)(4.8,0.64)(4.9,0.63)(4.55,0.56)(4.4,0.58)(4.6,0.58)(4.75,0.57)(4.8,0.56)(4.65,0.47)(4.75,0.49)(5.0,0.6)(5.25,0.63)(5.0,0.66)(5.0,0.69)(5.2,0.705)(5.4,0.68)(5.35,0.73)(5.55,0.74)(5.75,0.74)(5.05,0.73)} ;
\addplot[core] coordinates {(2.0,0.44)(2.36,0.5)(2.68,0.55)(2.92,0.6)(3.36,0.65)(3.84,0.7)(4.3,0.725)(4.7,0.75)(5.2,0.76)(5.45,0.765)(5.45,0.75)(5.2,0.74)(4.8,0.72)(4.4,0.695)(3.72,0.65)(3.28,0.6)(2.96,0.55)(2.64,0.5)(2.36,0.45)(2.1,0.43)} --cycle;
\addplot[strs] coordinates {(1.9,0.419)(1.98,0.43)(2.1,0.44)(2.05,0.453)(2.25,0.45)(2.2,0.435)(2.55,0.476)(2.55,0.46)(2.65,0.5)(2.85,0.504)(2.95,0.505)(3.15,0.505)(2.6,0.53)(2.9,0.53)(2.98,0.527)(3.05,0.535)(3.38,0.53)(3.0,0.55)(3.2,0.552)(3.4,0.545)(3.38,0.56)(3.42,0.55)(3.25,0.575)(3.25,0.58)(3.4,0.6)(3.5,0.607)(3.6,0.61)(3.82,0.592)(3.85,0.59)(3.6,0.621)(3.75,0.622)(3.85,0.622)(4.03,0.634)(4.03,0.654)(3.85,0.658)(4.14,0.68)(4.25,0.687)(4.15,0.685)(4.1,0.675)(4.53,0.615)(4.47,0.534)(4.55,0.7)(4.7,0.72)(5.4,0.745)(5.45,0.74)(5.45,0.75)(5.25,0.75)(5.6,0.762)(5.8,0.77)(5.85,0.765)(5.9,0.775)(6.03,0.759)(6.05,0.77)(6.2,0.78)(6.3,0.772)(6.35,0.768)(6.45,0.77)(6.55,0.768)(6.53,0.781)(6.68,0.782)(6.68,0.777)(3.9,0.708)(3.8,0.69)(4.35,0.73)(4.5,0.74)(3.25,0.65)(3.55,0.66)
(2.4,0.48)(2.5,0.52)(2.75,0.53)(2.8,0.57)(3.05,0.58)(3.1,0.6)(3.2,0.625)(3.4,0.635)(3.55,0.66)(3.7,0.675)(3.9,0.68)(4.05,0.705)(4.2,0.72)(4.45,0.71)(4.6,0.73)(4.85,0.74)(5.0,0.755)(5.15,0.735)(5.3,0.765)(2.9,0.58)} ;
\pantitle{ILL18}
\panlegend
\end{axis}
\end{tikzpicture}
\end{document}
